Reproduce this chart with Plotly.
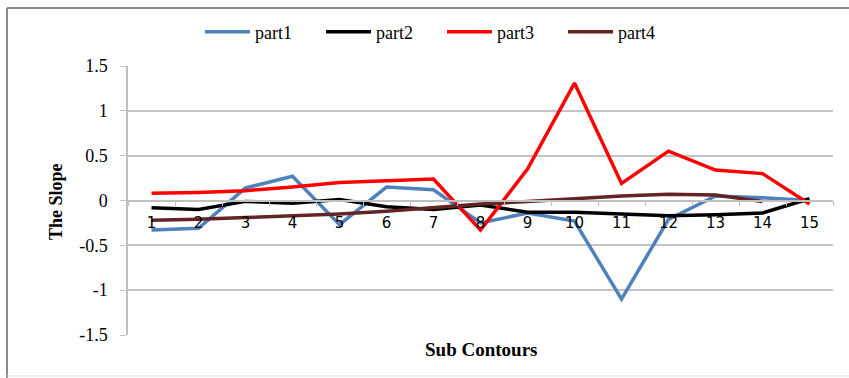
import plotly.graph_objects as go

categories = [str(i) for i in range(1, 16)]
part1 = [-0.33, -0.31, 0.14, 0.27, -0.27, 0.15, 0.12, -0.25, -0.14, -0.23, -1.10, -0.21, 0.05, 0.03, 0.0]
part2 = [-0.08, -0.10, -0.01, -0.03, 0.01, -0.07, -0.10, -0.05, -0.13, -0.13, -0.15, -0.17, -0.16, -0.14, 0.02]
part3 = [0.08, 0.09, 0.11, 0.15, 0.20, 0.22, 0.24, -0.33, 0.35, 1.31, 0.19, 0.55, 0.34, 0.30, -0.04]
part4 = [-0.22, -0.21, -0.19, -0.17, -0.15, -0.12, -0.08, -0.04, -0.01, 0.02, 0.05, 0.07, 0.06, -0.01, None]

series_names = ["part1", "part2", "part3", "part4"]
series_colors = ["#4F81BD", "#000000", "#FF0000", "#632523"]
y_tickvals = [1.5, 1, 0.5, 0, -0.5, -1, -1.5]
y_ticktext = ["1.5", "1", "0.5", "0", "-0.5", "-1", "-1.5"]

fig = go.Figure()
for name, vals, col in zip(series_names, [part1, part2, part3, part4], series_colors):
    fig.add_trace(go.Scatter(x=categories, y=vals, mode="lines", name=name,
                             line=dict(color=col, width=3.5), connectgaps=False))

W, H = 849, 378
L, R, T, B = 128, 16, 66, 43
pw, ph = W - L - R, H - T - B

def px_x(x):
    return (x - L) / pw

def px_y(y):
    return (H - B - y) / ph

fig.update_layout(
    width=W, height=H,
    margin=dict(l=L, r=R, t=T, b=B, autoexpand=False),
    paper_bgcolor="white", plot_bgcolor="white",
    showlegend=True,
    legend=dict(orientation="h", x=px_x(442), xanchor="center", y=px_y(32), yanchor="middle",
                font=dict(family="Liberation Serif", size=18, color="#000"),
                entrywidth=61, entrywidthmode="pixels", itemwidth=45,
                bgcolor="rgba(0,0,0,0)"),
    xaxis=dict(type="category", range=[-0.5, 14.5], anchor="free", position=0.5,
               showgrid=False, showline=True, linecolor="#BFBFBF", linewidth=1.5,
               ticks="outside", tickson="boundaries", ticklen=5, tickcolor="#BFBFBF",
               ticklabelstandoff=9,
               tickfont=dict(family="DejaVu Sans", size=15, color="#000"), zeroline=False),
    yaxis=dict(range=[-1.5, 1.5], tickvals=y_tickvals, ticktext=y_ticktext,
               showgrid=True, gridcolor="#C4C4C4", gridwidth=1.5,
               showline=True, linecolor="#BFBFBF", linewidth=1.5,
               ticks="outside", ticklen=6, tickcolor="#C4C4C4",
               ticklabelstandoff=9,
               tickfont=dict(family="Liberation Serif", size=18, color="#000"),
               zeroline=False),
    annotations=[
        dict(text="<b>Sub Contours</b>", xref="paper", yref="paper", x=px_x(481), y=px_y(349),
             xanchor="center", yanchor="middle", showarrow=False,
             font=dict(family="Liberation Serif", size=19, color="#000")),
        dict(text="<b>The Slope</b>", xref="paper", yref="paper", x=px_x(56), y=px_y(202),
             xanchor="center", yanchor="middle", showarrow=False, textangle=-90,
             font=dict(family="Liberation Serif", size=18, color="#000")),
    ],
    shapes=[
        dict(type="line", xref="paper", yref="paper", x0=px_x(7), x1=px_x(849), y0=px_y(8), y1=px_y(8),
             line=dict(color="#8C8C8C", width=2)),
        dict(type="line", xref="paper", yref="paper", x0=px_x(7), x1=px_x(7), y0=px_y(8), y1=px_y(378),
             line=dict(color="#8C8C8C", width=2)),
        dict(type="line", xref="paper", yref="paper", x0=px_x(7), x1=px_x(849), y0=px_y(376), y1=px_y(376),
             line=dict(color="#E0E0E0", width=1)),
    ],
)

fig.write_html("out.html", config={"displayModeBar": False},
               post_script="document.body.style.margin='0';")
